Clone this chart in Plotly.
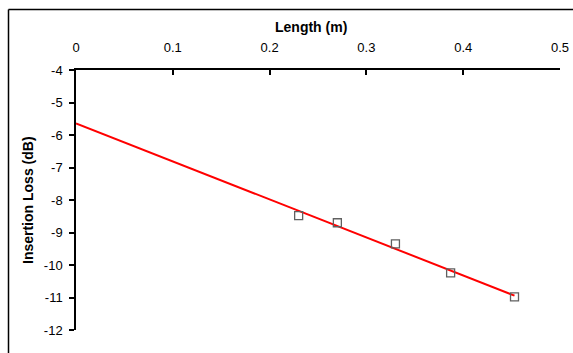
import numpy as np
import plotly.graph_objects as go

length_m = [0.23, 0.27, 0.33, 0.387, 0.453]
insertion_loss_db = [-8.48, -8.70, -9.35, -10.24, -10.98]
x_ticks = [0, 0.1, 0.2, 0.3, 0.4, 0.5]
y_ticks = [-4, -5, -6, -7, -8, -9, -10, -11, -12]

slope, intercept = np.polyfit(length_m, insertion_loss_db, 1)
trend_x = [0, max(length_m)]
trend_y = [intercept + slope * v for v in trend_x]

FONT = "Liberation Sans, Arial, sans-serif"
W, H = 573, 353
L, R, T, B = 76, 13, 70, 23
pw, ph = W - L - R, H - T - B

def px_x(px):
    return (px - L) / pw

def px_y(py):
    return (H - B - py) / ph

fig = go.Figure()
fig.add_trace(go.Scatter(x=trend_x, y=trend_y, mode="lines",
                         line=dict(color="#ff0000", width=2), showlegend=False,
                         hoverinfo="skip"))
fig.add_trace(go.Scatter(x=length_m, y=insertion_loss_db, mode="markers",
                         marker=dict(symbol="square-open", size=8,
                                     color="#606060", line=dict(width=1.3, color="#606060")),
                         showlegend=False))

fig.update_layout(
    width=W, height=H,
    margin=dict(l=L, r=R, t=T, b=B, autoexpand=False),
    paper_bgcolor="white", plot_bgcolor="white",
    font=dict(family=FONT, size=13, color="black"),
    xaxis=dict(side="top", range=[0, 0.5], tickvals=x_ticks,
               ticktext=[str(v) for v in x_ticks], automargin=False,
               showgrid=False, zeroline=False, showline=True,
               linecolor="black", linewidth=1.5, ticks="inside",
               ticklen=5, tickwidth=1.5, tickcolor="black",
               ticklabelstandoff=11),
    yaxis=dict(range=[-12, -4], tickvals=y_ticks,
               ticktext=[str(v) for v in y_ticks], automargin=False,
               showgrid=False, zeroline=False, showline=True,
               linecolor="black", linewidth=1.5, ticks="outside",
               ticklen=5, tickwidth=1.5, tickcolor="black",
               ticklabelstandoff=4),
    annotations=[
        dict(text="<b>Length (m)</b>", x=px_x(311), y=px_y(27), xref="paper", yref="paper",
             showarrow=False, font=dict(size=14, family=FONT), xanchor="center", yanchor="middle"),
        dict(text="<b>Insertion Loss (dB)</b>", x=px_x(28), y=0.5, xref="paper", yref="paper",
             showarrow=False, textangle=-90, font=dict(size=14, family=FONT),
             xanchor="center", yanchor="middle"),
    ],
    shapes=[
        dict(type="line", xref="paper", yref="paper", x0=px_x(8.5), x1=px_x(8.5),
             y0=px_y(400), y1=px_y(9.5), line=dict(color="black", width=1.5)),
        dict(type="line", xref="paper", yref="paper", x0=px_x(8.5), x1=px_x(600),
             y0=px_y(9.5), y1=px_y(9.5), line=dict(color="black", width=1.5)),
    ],
)

fig.write_html(
    "out.html",
    config={"displayModeBar": False},
    post_script="document.body.style.margin='0';document.body.style.overflow='hidden';",
)
